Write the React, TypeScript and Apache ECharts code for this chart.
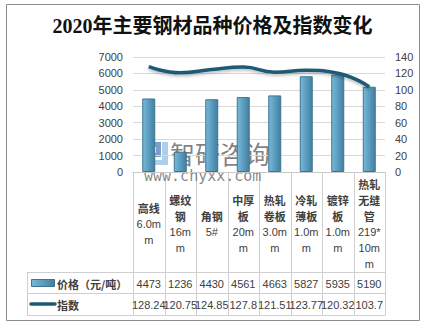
import React, { useEffect, useRef } from "react";
import * as echarts from "echarts";

const categoryNames = ["高线", "螺纹钢", "角钢", "中厚板", "热轧卷板", "冷轧薄板", "镀锌板", "热轧无缝管"];
const categoryLabelLines: string[][] = [
  ["c:高线", "n:6.0m", "n:m"],
  ["c:螺纹", "c:钢", "n:16m", "n:m"],
  ["c:角钢", "n:5#"],
  ["c:中厚", "c:板", "n:20m", "n:m"],
  ["c:热轧", "c:卷板", "n:3.0m", "n:m"],
  ["c:冷轧", "c:薄板", "n:1.0m", "n:m"],
  ["c:镀锌", "c:板", "n:1.0m", "n:m"],
  ["c:热轧", "c:无缝", "c:管", "n:219*", "n:10m", "n:m"],
];
const prices = [4473, 1236, 4430, 4561, 4663, 5827, 5935, 5190];
const indexes = [128.24, 120.75, 124.85, 127.8, 121.51, 123.77, 120.32, 103.7];
const priceName = "价格（元/吨）";
const indexName = "指数";
const titleText = "2020年主要钢材品种价格及指数变化";

const W = 425;
const H = 327;
const GL = 133;
const GR = 385;
const GT = 57;
const GB = 172;
const ROW1 = 272;
const ROW2 = 293;
const ROW3 = 315;
const LEG_L = 27;
const TXT = "#404040";
const LINE_C = "#CFCFCF";
const CJK = "'Noto Sans CJK SC', 'Liberation Sans', sans-serif";
const NUM = "'Liberation Sans', 'Noto Sans CJK SC', sans-serif";

const barGrad = () =>
  new echarts.graphic.LinearGradient(0, 0, 1, 0, [
    { offset: 0, color: "#79B8D6" },
    { offset: 0.5, color: "#5A9DC0" },
    { offset: 1, color: "#437F9E" },
  ]);

export default function App() {
  const ref = useRef<HTMLDivElement>(null);
  useEffect(() => {
    if (!ref.current) return;
    const chart = echarts.init(ref.current, undefined, { renderer: "svg" });
    const n = categoryNames.length;
    const cw = (GR - GL) / n;
    const graphics: any[] = [];
    graphics.push({
      type: "rect",
      shape: { x: 6.5, y: 4.5, width: 413, height: 316 },
      style: { fill: "none", stroke: "#8C8C8C", lineWidth: 1 },
      silent: true,
    });
    for (let k = 0; k <= n; k++) {
      const x = Math.round(GL + cw * k) + 0.5;
      graphics.push({
        type: "line",
        shape: { x1: x, y1: GB, x2: x, y2: ROW3 },
        style: { stroke: LINE_C, lineWidth: 1 },
        silent: true,
      });
    }
    [ROW1, ROW2, ROW3].forEach((y) => {
      graphics.push({
        type: "line",
        shape: { x1: LEG_L, y1: y + 0.5, x2: GR + 0.5, y2: y + 0.5 },
        style: { stroke: LINE_C, lineWidth: 1 },
        silent: true,
      });
    });
    graphics.push({
      type: "line",
      shape: { x1: LEG_L + 0.5, y1: ROW1, x2: LEG_L + 0.5, y2: ROW3 },
      style: { stroke: LINE_C, lineWidth: 1 },
      silent: true,
    });
    categoryLabelLines.forEach((lines, i) => {
      const text = lines
        .map((l) => {
          const [k, v] = l.split(":");
          return `{${k}|${v}}`;
        })
        .join("\n");
      const cx = GL + cw * (i + 0.5);
      graphics.push({
        type: "text",
        x: cx,
        y: (GB + ROW1) / 2 + 2,
        style: {
          text,
          align: "center",
          verticalAlign: "middle",
          textAlign: "center",
          textVerticalAlign: "middle",
          rich: {
            c: { font: `bold 11px ${CJK}`, fill: TXT, lineHeight: 16, align: "center" },
            n: { font: `11px ${NUM}`, fill: TXT, lineHeight: 16, align: "center" },
          },
        },
        silent: true,
      });
      graphics.push({
        type: "text",
        x: cx,
        y: (ROW1 + ROW2) / 2 + 1,
        style: {
          text: String(prices[i]),
          font: `11px ${NUM}`,
          fill: TXT,
          align: "center",
          verticalAlign: "middle",
          textAlign: "center",
          textVerticalAlign: "middle",
        },
        silent: true,
      });
      graphics.push({
        type: "text",
        x: cx,
        y: (ROW2 + ROW3) / 2 + 1,
        style: {
          text: String(indexes[i]),
          font: `11px ${NUM}`,
          fill: TXT,
          align: "center",
          verticalAlign: "middle",
          textAlign: "center",
          textVerticalAlign: "middle",
        },
        silent: true,
      });
    });
    graphics.push({
      type: "rect",
      shape: { x: 31.5, y: 279.5, width: 23, height: 7 },
      style: { fill: barGrad(), stroke: "#3D7590", lineWidth: 1 },
      silent: true,
    });
    graphics.push({
      type: "text",
      x: 57,
      y: (ROW1 + ROW2) / 2 + 1,
      style: {
        text: priceName,
        font: `bold 11px ${CJK}`,
        fill: TXT,
        verticalAlign: "middle",
        textVerticalAlign: "middle",
      },
      silent: true,
    });
    graphics.push({
      type: "line",
      shape: { x1: 31, y1: 304, x2: 55, y2: 304 },
      style: { stroke: "#1C5A74", lineWidth: 3.5, lineCap: "round" },
      silent: true,
    });
    graphics.push({
      type: "text",
      x: 57,
      y: (ROW2 + ROW3) / 2 + 1,
      style: {
        text: indexName,
        font: `bold 11px ${CJK}`,
        fill: TXT,
        verticalAlign: "middle",
        textVerticalAlign: "middle",
      },
      silent: true,
    });
    // watermark
    graphics.push({
      type: "group",
      silent: true,
      z: 100,
      children: [
        { type: "rect", shape: { x: 145, y: 142, width: 6, height: 23 }, style: { fill: "rgba(80,125,185,0.75)" } },
        { type: "rect", shape: { x: 151, y: 142, width: 10, height: 5 }, style: { fill: "rgba(80,125,185,0.75)" } },
        { type: "rect", shape: { x: 156, y: 147, width: 5, height: 6 }, style: { fill: "rgba(80,125,185,0.75)" } },
        { type: "rect", shape: { x: 151, y: 153, width: 10, height: 4 }, style: { fill: "rgba(80,125,185,0.75)" } },
        { type: "rect", shape: { x: 162, y: 142, width: 6, height: 23 }, style: { fill: "rgba(150,190,225,0.75)" } },
        { type: "rect", shape: { x: 151, y: 160, width: 11, height: 5 }, style: { fill: "rgba(150,190,225,0.75)" } },
        {
          type: "text",
          x: 144,
          y: 139,
          style: {
            text: "{a|智研咨询}\n{b|www.chyxx.com}",
            align: "left",
            verticalAlign: "top",
            textAlign: "left",
            textVerticalAlign: "top",
            rich: {
              a: {
                font: `25px ${CJK}`,
                fill: "rgba(95,95,95,0.8)",
                lineHeight: 28,
                padding: [0, 0, 0, 26],
              },
              b: {
                font: `15px 'DejaVu Sans Mono', monospace`,
                fill: "rgba(95,95,95,0.75)",
                lineHeight: 18,
              },
            },
          },
        },
      ],
    });

    chart.setOption({
      animation: false,
      backgroundColor: "#ffffff",
      title: {
        text: titleText,
        left: "center",
        top: 11,
        textStyle: {
          fontSize: 20,
          fontWeight: "bold",
          color: "#111111",
          fontFamily: "'Liberation Serif', 'Noto Sans CJK SC', serif",
        },
      },
      grid: { left: GL, right: W - GR, top: GT, bottom: H - GB, containLabel: false },
      xAxis: {
        type: "category",
        data: categoryNames,
        axisLabel: { show: false },
        axisTick: { show: false },
        axisLine: { lineStyle: { color: "#C8C8C8" } },
      },
      yAxis: [
        {
          type: "value",
          min: 0,
          max: 7000,
          interval: 1000,
          axisLabel: { color: TXT, fontSize: 11, fontFamily: NUM, margin: 10, formatter: (v: number) => String(v) },
          splitLine: { lineStyle: { color: "#D9D9D9" } },
          axisLine: { show: false },
          axisTick: { show: false },
        },
        {
          type: "value",
          min: 0,
          max: 140,
          interval: 20,
          axisLabel: { color: TXT, fontSize: 11, fontFamily: NUM, margin: 10, formatter: (v: number) => String(v) },
          splitLine: { show: false },
          axisLine: { show: false },
          axisTick: { show: false },
        },
      ],
      series: [
        {
          type: "bar",
          name: priceName,
          data: prices,
          barWidth: 13,
          itemStyle: { color: barGrad(), borderColor: "#3D7590", borderWidth: 1 },
        },
        {
          type: "line",
          name: indexName,
          yAxisIndex: 1,
          data: indexes,
          smooth: true,
          symbol: "none",
          lineStyle: {
            color: "#1C5A74",
            width: 3.5,
            shadowColor: "rgba(0,0,0,0.25)",
            shadowBlur: 3,
            shadowOffsetY: 2,
          },
        },
      ],
      graphic: graphics,
    });
    return () => chart.dispose();
  }, []);
  return (
    <div
      ref={ref}
      style={{ position: "fixed", left: 0, top: 0, width: W, height: H, background: "#fff" }}
    />
  );
}
